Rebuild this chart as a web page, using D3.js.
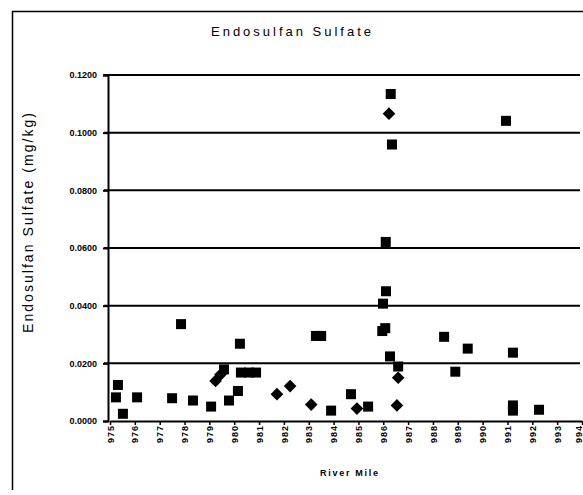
<!DOCTYPE html>
<html>
<head>
<meta charset="utf-8">
<script src="https://cdn.jsdelivr.net/npm/d3@7"></script>
<style>
  html, body { margin: 0; padding: 0; background: #fff; }
  svg { display: block; }
  text { font-family: Arial, "Liberation Sans", sans-serif; fill: #000; }
</style>
</head>
<body>
<svg id="chart" width="583" height="495"></svg>
<script>
// River mile ticks and concentration ticks
const riverMiles = d3.range(975, 995);
const yTicks = [0, 0.02, 0.04, 0.06, 0.08, 0.10, 0.12];

// Series 1 (squares): river mile and concentration (mg/kg)
const squareMile = [975.24, 975.32, 975.52, 976.09, 977.5, 977.86, 978.34, 979.07, 979.59, 979.79,
  980.15, 980.23, 980.27, 980.6, 980.88, 983.29, 983.5, 983.9, 984.7, 985.39,
  985.96, 986.08, 985.99, 986.11, 986.1, 986.3, 986.35, 986.27, 986.6, 988.45,
  988.9, 989.4, 990.94, 991.22, 991.22, 991.22, 992.27];
const squareConc = [0.0082, 0.0125, 0.0025, 0.0082, 0.0079, 0.0336, 0.0071, 0.005, 0.0179, 0.0071,
  0.0104, 0.0268, 0.0168, 0.0168, 0.0168, 0.0295, 0.0295, 0.0036, 0.0093, 0.005,
  0.0312, 0.0322, 0.0407, 0.045, 0.0621, 0.1134, 0.0959, 0.0224, 0.0189, 0.0292,
  0.0171, 0.0251, 0.1041, 0.0237, 0.0054, 0.0036, 0.0039];

// Series 2 (diamonds)
const diamondMile = [979.25, 979.45, 981.72, 982.25, 983.1, 984.94, 986.23, 986.6, 986.55];
const diamondConc = [0.0139, 0.0161, 0.0093, 0.0121, 0.0057, 0.0043, 0.1066, 0.015, 0.0054];

const svg = d3.select("#chart");

const x = d3.scaleLinear().domain([975, 994]).range([110, 582]);
const y = d3.scaleLinear().domain([0, 0.12]).range([421, 75]);

// outer frame (runs off the right edge)
svg.append("path")
  .attr("d", "M12.5,490 L12.5,11.5 L600,11.5")
  .attr("fill", "none").attr("stroke", "#000").attr("stroke-width", 1.5);

// title
svg.append("text")
  .attr("x", 291).attr("y", 36)
  .attr("text-anchor", "middle")
  .attr("font-size", 13)
  .attr("textLength", 160)
  .text("Endosulfan Sulfate");

// horizontal gridlines
svg.append("g").selectAll("line")
  .data(yTicks.slice(1))
  .join("line")
  .attr("x1", 104).attr("x2", 580)
  .attr("y1", d => y(d)).attr("y2", d => y(d))
  .attr("stroke", "#000").attr("stroke-width", 2);

// y axis
const yAxis = svg.append("g")
  .attr("transform", "translate(108,0)")
  .call(d3.axisLeft(y).tickValues(yTicks).tickFormat(d3.format(".4f")).tickSize(5).tickPadding(6));
yAxis.select(".domain").attr("stroke-width", 2);
yAxis.selectAll("line").attr("stroke-width", 2);
yAxis.selectAll("text")
  .attr("font-size", 9).attr("font-weight", "bold")
  .attr("font-family", "Arial, 'Liberation Sans', sans-serif");

// x axis
const xAxis = svg.append("g")
  .attr("transform", "translate(0,421)")
  .call(d3.axisBottom(x).tickValues(riverMiles).tickFormat(d3.format("d")).tickSize(4).tickSizeOuter(0));
xAxis.select(".domain").attr("stroke-width", 2);
xAxis.selectAll("line").attr("stroke-width", 1.5);
xAxis.selectAll("text")
  .attr("font-size", 9).attr("font-weight", "bold")
  .attr("font-family", "Arial, 'Liberation Sans', sans-serif")
  .attr("text-anchor", "end")
  .attr("transform", "rotate(-90)")
  .attr("x", -5).attr("y", 0)
  .attr("dy", d => d === 994 ? "-0.1em" : "0.35em")   // keep the last label inside the page
  .attr("textLength", 17);

// axis titles
svg.append("text")
  .attr("x", 349).attr("y", 476)
  .attr("text-anchor", "middle")
  .attr("font-size", 9).attr("font-weight", "bold")
  .attr("textLength", 58)
  .text("River Mile");

svg.append("text")
  .attr("transform", "translate(33,223) rotate(-90)")
  .attr("text-anchor", "middle")
  .attr("font-size", 14)
  .attr("textLength", 220)
  .text("Endosulfan Sulfate (mg/kg)");

// squares
const sq = 10;
svg.append("g").selectAll("rect")
  .data(d3.zip(squareMile, squareConc))
  .join("rect")
  .attr("x", d => x(d[0]) - sq / 2)
  .attr("y", d => y(d[1]) - sq / 2)
  .attr("width", sq).attr("height", sq)
  .attr("fill", "#000");

// diamonds
const diamond = d3.symbol().type(d3.symbolSquare).size(80);
svg.append("g").selectAll("path")
  .data(d3.zip(diamondMile, diamondConc))
  .join("path")
  .attr("d", diamond)
  .attr("transform", d => `translate(${x(d[0])},${y(d[1])}) rotate(45)`)
  .attr("fill", "#000");
</script>
</body>
</html>
